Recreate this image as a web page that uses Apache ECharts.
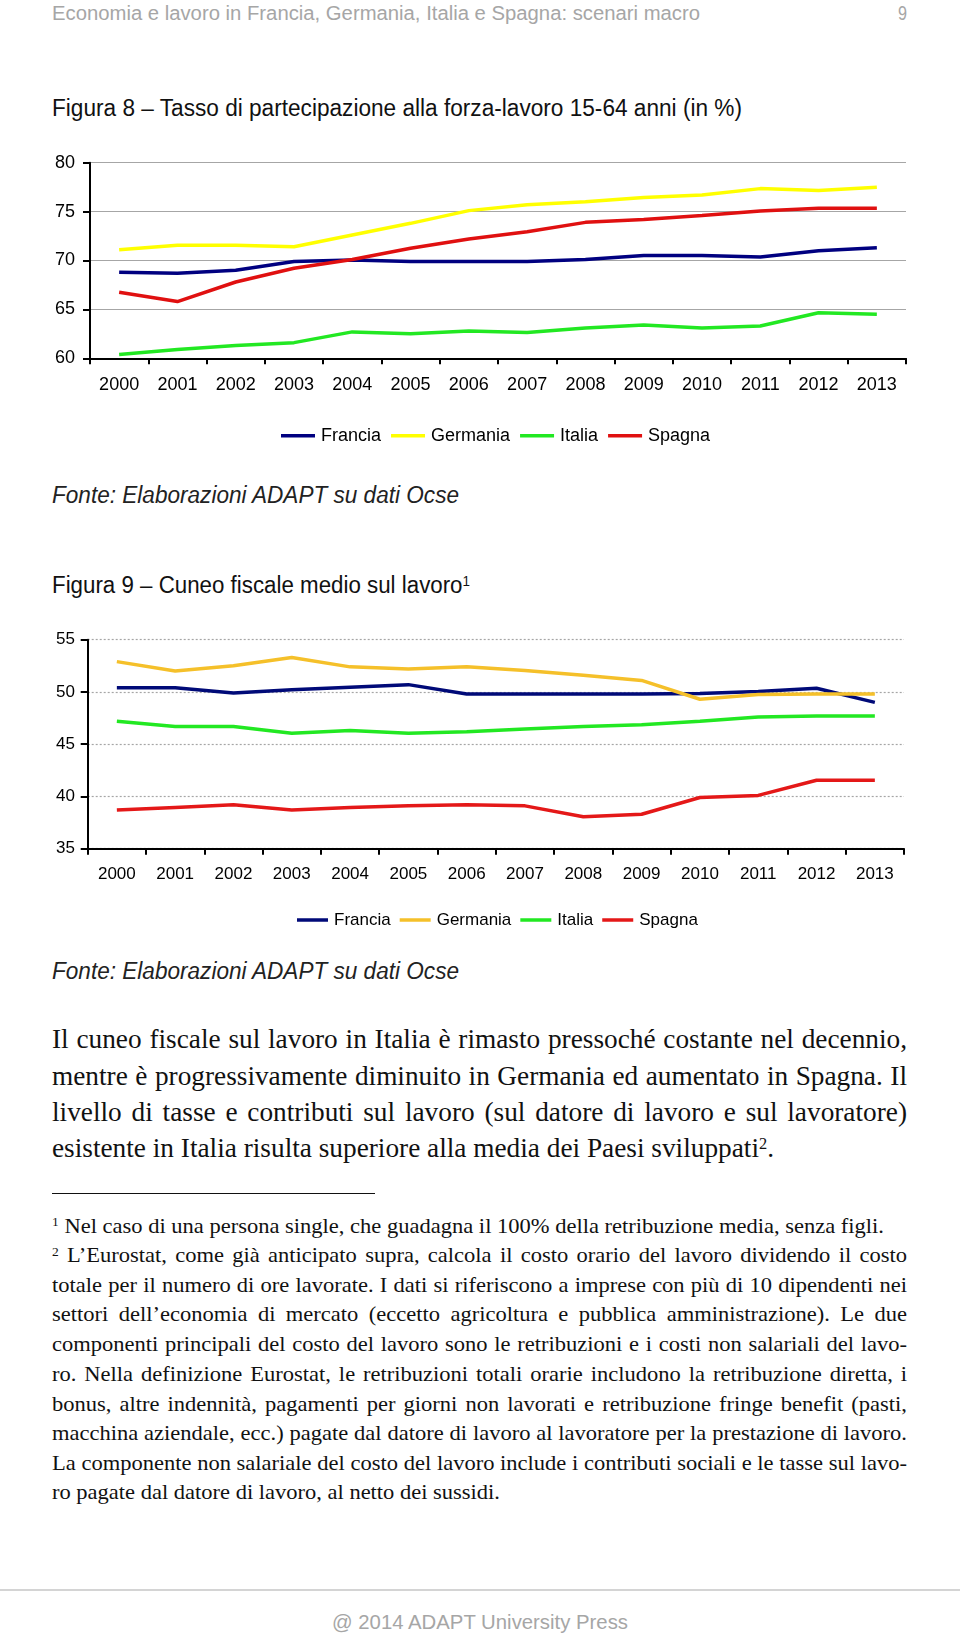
<!DOCTYPE html>
<html><head><meta charset="utf-8">
<script src="https://cdn.jsdelivr.net/npm/echarts@6/dist/echarts.min.js"></script>
<style>
html,body{margin:0;padding:0;background:#fff;}
#page{position:relative;width:960px;height:1635px;overflow:hidden;background:#fff;}
.t{position:absolute;white-space:nowrap;transform-origin:0 50%;}
.sans{font-family:"Liberation Sans",Arial,sans-serif;}
.serif{font-family:"Liberation Serif","Times New Roman",serif;color:#111;}
sup{font-size:0.6em;vertical-align:0;position:relative;top:-0.5em;}
.chart{position:absolute;left:0;width:960px;}
</style></head>
<body><div id="page">
<div class="t sans" data-l="52" data-c="12.5" data-w="648" data-fs="20" style="color:#a6a6a6">Economia e lavoro in Francia, Germania, Italia e Spagna: scenari macro</div>
<div class="t sans" data-l="898" data-c="12.5" data-w="9" data-fs="20" style="color:#a6a6a6">9</div>

<div class="t sans" data-l="52" data-c="108.5" data-w="690" data-fs="23" style="color:#111">Figura 8 – Tasso di partecipazione alla forza-lavoro 15-64 anni (in %)</div>
<div class="chart" id="c1" style="top:130px;height:330px"></div>
<div class="t sans" data-l="52" data-c="496" data-w="407" data-fs="23" style="color:#222;font-style:italic">Fonte: Elaborazioni ADAPT su dati Ocse</div>

<div class="t sans" data-l="52" data-c="586" data-w="418" data-fs="23" style="color:#111">Figura 9 – Cuneo fiscale medio sul lavoro<sup>1</sup></div>
<div class="chart" id="c2" style="top:610px;height:330px"></div>
<div class="t sans" data-l="52" data-c="972" data-w="407" data-fs="23" style="color:#222;font-style:italic">Fonte: Elaborazioni ADAPT su dati Ocse</div>

<div class="t serif" data-g="body" data-l="52" data-c="1039" data-jw="855" data-fs="27">Il cuneo fiscale sul lavoro in Italia è rimasto pressoché costante nel decennio,</div>
<div class="t serif" data-g="body" data-l="52" data-c="1076" data-jw="855" data-fs="27">mentre è progressivamente diminuito in Germania ed aumentato in Spagna. Il</div>
<div class="t serif" data-g="body" data-l="52" data-c="1112" data-jw="855" data-fs="27">livello di tasse e contributi sul lavoro (sul datore di lavoro e sul lavoratore)</div>
<div class="t serif" data-g="body" data-ref="1" data-l="52" data-c="1148" data-w="722" data-fs="27">esistente in Italia risulta superiore alla media dei Paesi sviluppati<sup>2</sup>.</div>

<div style="position:absolute;left:52px;top:1192.5px;width:323px;height:1.5px;background:#111"></div>

<div class="t serif" data-g="fn" data-ref="1" data-l="52" data-c="1226" data-w="832" data-fs="22"><sup>1</sup> Nel caso di una persona single, che guadagna il 100% della retribuzione media, senza figli.</div>
<div class="t serif" data-g="fn" data-l="52" data-c="1255.5" data-jw="855" data-fs="22"><sup>2</sup> L’Eurostat, come già anticipato supra, calcola il costo orario del lavoro dividendo il costo</div>
<div class="t serif" data-g="fn" data-l="52" data-c="1285.2" data-jw="855" data-fs="22">totale per il numero di ore lavorate. I dati si riferiscono a imprese con più di 10 dipendenti nei</div>
<div class="t serif" data-g="fn" data-l="52" data-c="1314.5" data-jw="855" data-fs="22">settori dell’economia di mercato (eccetto agricoltura e pubblica amministrazione). Le due</div>
<div class="t serif" data-g="fn" data-l="52" data-c="1344.5" data-jw="855" data-fs="22">componenti principali del costo del lavoro sono le retribuzioni e i costi non salariali del lavo-</div>
<div class="t serif" data-g="fn" data-l="52" data-c="1374" data-jw="855" data-fs="22">ro. Nella definizione Eurostat, le retribuzioni totali orarie includono la retribuzione diretta, i</div>
<div class="t serif" data-g="fn" data-l="52" data-c="1404" data-jw="855" data-fs="22">bonus, altre indennità, pagamenti per giorni non lavorati e retribuzione fringe benefit (pasti,</div>
<div class="t serif" data-g="fn" data-l="52" data-c="1433.3" data-jw="855" data-fs="22">macchina aziendale, ecc.) pagate dal datore di lavoro al lavoratore per la prestazione di lavoro.</div>
<div class="t serif" data-g="fn" data-l="52" data-c="1463.4" data-jw="855" data-fs="22">La componente non salariale del costo del lavoro include i contributi sociali e le tasse sul lavo-</div>
<div class="t serif" data-g="fn" data-ref="1" data-l="52" data-c="1492.6" data-w="448" data-fs="22">ro pagate dal datore di lavoro, al netto dei sussidi.</div>

<div style="position:absolute;left:0;top:1588.5px;width:960px;height:2px;background:#d4d4d4"></div>
<div class="t sans" data-l="331.5" data-c="1622" data-w="296" data-fs="21" style="color:#a6a6a6">@ 2014 ADAPT University Press</div>
</div>
<script>
// ---- data ----
const years = ['2000','2001','2002','2003','2004','2005','2006','2007','2008','2009','2010','2011','2012','2013'];
const seriesNames = ['Francia','Germania','Italia','Spagna'];
// Figura 8 – Tasso di partecipazione 15-64 (%)
const fr8 = [68.8, 68.7, 69.0, 69.9, 70.05, 69.9, 69.9, 69.9, 70.1, 70.5, 70.5, 70.35, 71.0, 71.3];
const de8 = [71.1, 71.55, 71.55, 71.4, 72.6, 73.8, 75.1, 75.7, 76.0, 76.45, 76.7, 77.35, 77.15, 77.5];
const it8 = [60.4, 60.9, 61.3, 61.6, 62.7, 62.5, 62.8, 62.65, 63.1, 63.4, 63.1, 63.3, 64.65, 64.5];
const es8 = [66.75, 65.8, 67.8, 69.2, 70.1, 71.25, 72.2, 72.95, 73.9, 74.2, 74.6, 75.05, 75.35, 75.35];
// Figura 9 – Cuneo fiscale medio
const fr9 = [50.4, 50.4, 49.9, 50.2, 50.45, 50.7, 49.8, 49.8, 49.8, 49.8, 49.85, 50.05, 50.35, 49.0];
const de9 = [52.9, 52.0, 52.5, 53.3, 52.4, 52.2, 52.4, 52.05, 51.6, 51.1, 49.3, 49.75, 49.8, 49.8];
const it9 = [47.2, 46.7, 46.7, 46.05, 46.3, 46.05, 46.2, 46.45, 46.7, 46.85, 47.2, 47.6, 47.7, 47.7];
const es9 = [38.7, 38.95, 39.2, 38.7, 38.95, 39.1, 39.2, 39.1, 38.05, 38.3, 39.9, 40.1, 41.55, 41.55];
const yTicks8 = {min:60, max:80, interval:5};
const yTicks9 = {min:35, max:55, interval:5};
const colors8 = ['#000080','#ffff00','#22e822','#e01010'];
const colors9 = ['#000a78','#f5c02a','#22e822','#e41818'];

// ---- text fitting ----
const all=[...document.querySelectorAll('.t')];
const groupScale={}, groupN={};
all.forEach(el=>{
  const fs=parseFloat(el.dataset.fs); el.style.fontSize=fs+'px';
  const lh=fs*1.2; el.style.lineHeight=lh+'px';
  el.style.left=el.dataset.l+'px';
  el.style.top=(parseFloat(el.dataset.c)-lh/2)+'px';
  if(el.dataset.w){
    const w=el.getBoundingClientRect().width;
    const s=parseFloat(el.dataset.w)/w;
    el.style.transform='scaleX('+s+')';
    if(el.dataset.ref){const g=el.dataset.g; groupScale[g]=(groupScale[g]||0)+s; groupN[g]=(groupN[g]||0)+1;}
  }
});
all.forEach(el=>{
  if(!el.dataset.jw) return;
  const g=el.dataset.g, s=groupScale[g]/groupN[g], jw=parseFloat(el.dataset.jw);
  const fs=parseFloat(el.dataset.fs), lh=fs*1.2;
  el.style.whiteSpace='normal'; el.style.width=(jw/s)+'px';
  el.style.textAlign='justify'; el.style.textAlignLast='justify';
  if(el.getBoundingClientRect().height>lh*1.5){
    el.style.whiteSpace='nowrap'; el.style.width='auto'; el.style.textAlignLast='auto';
    const w=el.getBoundingClientRect().width;
    el.style.transform='scaleX('+(jw/w)+')';
  } else {
    el.style.transform='scaleX('+s+')';
  }
});

function makeOption(cfg){
  const datas = cfg.datas;
  return {
    animation:false,
    textStyle:{fontFamily:'"Liberation Sans", Arial, sans-serif'},
    grid:{left:cfg.left, top:cfg.top, width:cfg.width, height:cfg.height, containLabel:false, outerBoundsMode:'none'},
    legend:{left:cfg.legLeft, top:cfg.legTop, padding:0, itemGap:cfg.itemGap, itemWidth:cfg.itemW, itemHeight:3.5, icon:'rect',
      textStyle:{fontSize:cfg.legFs, color:'#000', padding:[0,0,0,1]}, data:seriesNames},
    xAxis:{type:'category', data:years, boundaryGap:true,
      axisLine:{lineStyle:{color:'#000', width:2}},
      axisTick:{show:true, interval:0, length:6, lineStyle:{color:'#000', width:2}},
      axisLabel:{interval:0, margin:cfg.xMargin, fontSize:cfg.fs, color:'#000'},
      splitLine:{show:false}},
    yAxis:{type:'value', min:cfg.y.min, max:cfg.y.max, interval:cfg.y.interval,
      axisLine:{show:true, lineStyle:{color:'#000', width:2}},
      axisTick:{show:true, length:7, lineStyle:{color:'#000', width:2}},
      axisLabel:{margin:cfg.yMargin, fontSize:cfg.fs, color:'#000'},
      splitLine:{show:true, lineStyle:{color:'#a6a6a6', width:1.2, type:cfg.gridType}}},
    series: seriesNames.map((n,i)=>({name:n, type:'line', data:datas[i], symbol:'none', smooth:false,
      lineStyle:{width:3.5, color:cfg.colors[i]}, itemStyle:{color:cfg.colors[i]}}))
  };
}

const c1 = echarts.init(document.getElementById('c1'));
c1.setOption(makeOption({datas:[fr8,de8,it8,es8], colors:colors8, left:90, top:32.7, width:816, height:195.6,
  legLeft:281, legTop:296.7, itemGap:10, itemW:34, legFs:18, fs:18, xMargin:18, yMargin:15, y:yTicks8, gridType:'solid'}));

const c2 = echarts.init(document.getElementById('c2'));
c2.setOption(makeOption({datas:[fr9,de9,it9,es9], colors:colors9, left:87.7, top:29.7, width:816.3, height:209,
  legLeft:297, legTop:301.5, itemGap:9, itemW:31, legFs:17, fs:17, xMargin:17, yMargin:12.7, y:yTicks9, gridType:[2,2]}));
</script>
</body></html>
